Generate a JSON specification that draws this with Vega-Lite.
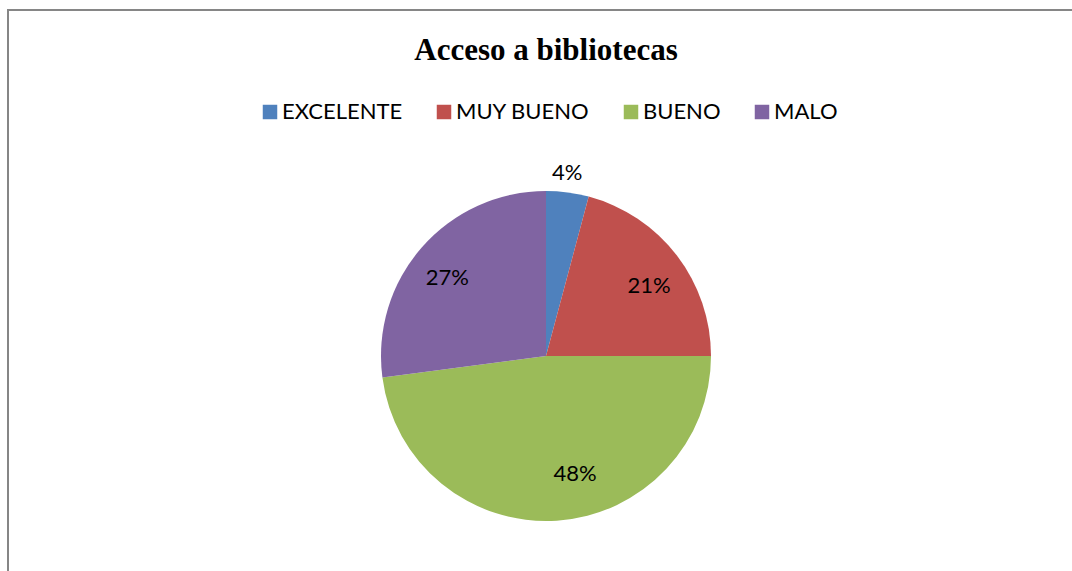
{
  "$schema": "https://vega.github.io/schema/vega-lite/v6.json",
  "width": 1076,
  "height": 692,
  "autosize": {"type": "none"},
  "padding": {"left": 8, "top": 10, "right": -12, "bottom": -131},
  "background": "white",
  "title": {
    "text": "Acceso a bibliotecas",
    "font": "Liberation Serif",
    "fontSize": 31,
    "fontWeight": "bold",
    "color": "black",
    "anchor": "middle",
    "frame": "group",
    "orient": "top",
    "offset": -50,
    "dy": 32,
    "baseline": "alphabetic"
  },
  "data": {
    "values": [
      {"cat": "EXCELENTE", "n": 2, "pct": "4%", "orden": 1},
      {"cat": "MUY BUENO", "n": 10, "pct": "21%", "orden": 2},
      {"cat": "BUENO", "n": 23, "pct": "48%", "orden": 3},
      {"cat": "MALO", "n": 13, "pct": "27%", "orden": 4}
    ]
  },
  "view": {"stroke": "#868686", "strokeWidth": 2},
  "config": {"view": {"stroke": "#868686", "strokeWidth": 2}},
  "layer": [
    {
      "data": {"values": [{"frame": 1}]},
      "mark": {"type": "rect", "fill": "white", "fillOpacity": 0, "stroke": "#868686", "strokeWidth": 2},
      "encoding": {}
    },
    {
      "mark": {"type": "arc", "radius": 165},
      "encoding": {
        "theta": {"field": "n", "type": "quantitative", "stack": true},
        "order": {"field": "orden", "type": "quantitative"},
        "color": {
          "field": "cat",
          "type": "nominal",
          "scale": {
            "domain": ["EXCELENTE", "MUY BUENO", "BUENO", "MALO"],
            "range": ["#4F81BD", "#C0504D", "#9BBB59", "#8064A2"]
          },
          "legend": {
            "title": null,
            "orient": "none",
            "legendX": 251,
            "legendY": 91,
            "direction": "horizontal",
            "columns": 4,
            "symbolType": "square",
            "symbolSize": 210,
            "symbolStrokeWidth": 0,
            "labelFont": "Lato",
            "labelFontSize": 22,
            "labelColor": "black",
            "labelOffset": 1,
            "columnPadding": 30,
            "padding": 0
          }
        }
      }
    },
    {
      "mark": {"type": "text", "font": "Lato", "fontSize": 22, "color": "black", "baseline": "middle", "align": "center", "dx": -3},
      "encoding": {
        "theta": {"field": "n", "type": "quantitative", "stack": true},
        "order": {"field": "orden", "type": "quantitative"},
        "radius": {"value": 185},
        "text": {"condition": {"test": "datum.cat === 'EXCELENTE'", "field": "pct"}, "value": ""}
      }
    },
    {
      "mark": {"type": "text", "font": "Lato", "fontSize": 22, "color": "black", "baseline": "middle", "align": "center", "dx": 4, "dy": 6},
      "encoding": {
        "theta": {"field": "n", "type": "quantitative", "stack": true},
        "order": {"field": "orden", "type": "quantitative"},
        "radius": {"value": 125},
        "text": {"condition": {"test": "datum.cat === 'MUY BUENO'", "field": "pct"}, "value": ""}
      }
    },
    {
      "mark": {"type": "text", "font": "Lato", "fontSize": 22, "color": "black", "baseline": "middle", "align": "center", "dx": 21, "dy": -4},
      "encoding": {
        "theta": {"field": "n", "type": "quantitative", "stack": true},
        "order": {"field": "orden", "type": "quantitative"},
        "radius": {"value": 122},
        "text": {"condition": {"test": "datum.cat === 'BUENO'", "field": "pct"}, "value": ""}
      }
    },
    {
      "mark": {"type": "text", "font": "Lato", "fontSize": 22, "color": "black", "baseline": "middle", "align": "center", "dx": -4, "dy": 5},
      "encoding": {
        "theta": {"field": "n", "type": "quantitative", "stack": true},
        "order": {"field": "orden", "type": "quantitative"},
        "radius": {"value": 126},
        "text": {"condition": {"test": "datum.cat === 'MALO'", "field": "pct"}, "value": ""}
      }
    }
  ]
}
